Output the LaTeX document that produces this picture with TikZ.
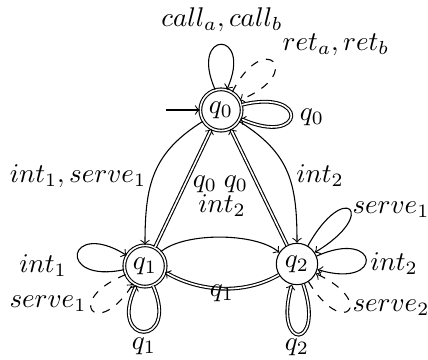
\documentclass[tikz,border=0pt]{standalone}
\newcommand\dedge[1]{\draw[dbl] #1; \draw[tiponly] #1;}
\begin{document}
\begin{tikzpicture}[x=0.37pt,y=0.37pt,
 st/.style={draw,circle,minimum size=15.3pt,inner sep=0pt},
 acc/.style={st,double},
 tr/.style={->},
 dbl/.style={double,shorten >=0.6pt},
 tiponly/.style={->,dash pattern=on 0pt off 1000pt},
 dsh/.style={->,dashed},
 lab/.style={inner sep=0pt}]
\useasboundingbox (0,0) rectangle (428,-360);
\node[acc] (q0) at (221,-110) {$q_0$};
\node[acc] (q1) at (145,-266) {$q_1$};
\node[st] (q2) at (297,-264) {$q_2$};
\coordinate (init) at (166,-110);
\draw[tr] (init) -- (q0);
% q0 loops
\draw[tr] (q0.106) .. controls +(114:66) and +(66:66) .. (q0.74);
\draw[dsh] (q0.58) .. controls +(63:72) and +(22:72) .. (q0.28);
\dedge{(q0.14) .. controls +(14:71) and +(-24:71) .. (q0.-24)}
% main edges
\draw[tr] (q0.212) .. controls +(212:60) and +(90:60) .. (q1.90);
\draw[tr] (q0.-32) .. controls +(-32:60) and +(90:60) .. (q2.90);
\dedge{(q1.62) -- (q0.243)}
\dedge{(q2.118) -- (q0.297)}
\draw[tr] (q1.42) .. controls +(40:31) and +(140:31) .. (q2.147);
\dedge{(q2.211) .. controls +(210:40) and +(-30:40) .. (q1.-17)}
% q1 loops
\draw[tr] (q1.190) .. controls +(192:70) and +(148:70) .. (q1.150);
\draw[dsh] (q1.204) .. controls +(202:68) and +(238:68) .. (q1.236);
\dedge{(q1.292) .. controls +(294:68) and +(244:68) .. (q1.246)}
% q2 loops
\draw[tr] (q2.59) .. controls +(61:76) and +(31:76) .. (q2.33);
\draw[tr] (q2.22) .. controls +(24:70) and +(-17:70) .. (q2.-15);
\draw[dsh] (q2.-57) .. controls +(-59:68) and +(-25:68) .. (q2.-27);
\dedge{(q2.287) .. controls +(289:70) and +(254:70) .. (q2.256)}
% labels
\node[lab] (lcall) at (222,-20) {$call_a, call_b$};
\node[lab] (lret) at (336,-45) {$ret_a, ret_b$};
\node[lab] (lq0r) at (312,-117) {$q_0$};
\node[lab] (lis) at (78,-176) {$int_1, serve_1$};
\node[lab] (lq0a) at (205,-184) {$q_0$};
\node[lab] (lq0b) at (236,-184) {$q_0$};
\node[lab] (li2a) at (320,-176) {$int_2$};
\node[lab] (li2m) at (222,-206) {$int_2$};
\node[lab] (lq1m) at (222,-293) {$q_1$};
\node[lab] (li1) at (43,-266) {$int_1$};
\node[lab] (ls1) at (48,-304) {$serve_1$};
\node[lab] (lq1) at (144,-346) {$q_1$};
\node[lab] (ls1b) at (391,-210) {$serve_1$};
\node[lab] (li2) at (394,-264) {$int_2$};
\node[lab] (ls2) at (391,-308) {$serve_2$};
\node[lab] (lq2) at (297,-347) {$q_2$};
\end{tikzpicture}
\end{document}
